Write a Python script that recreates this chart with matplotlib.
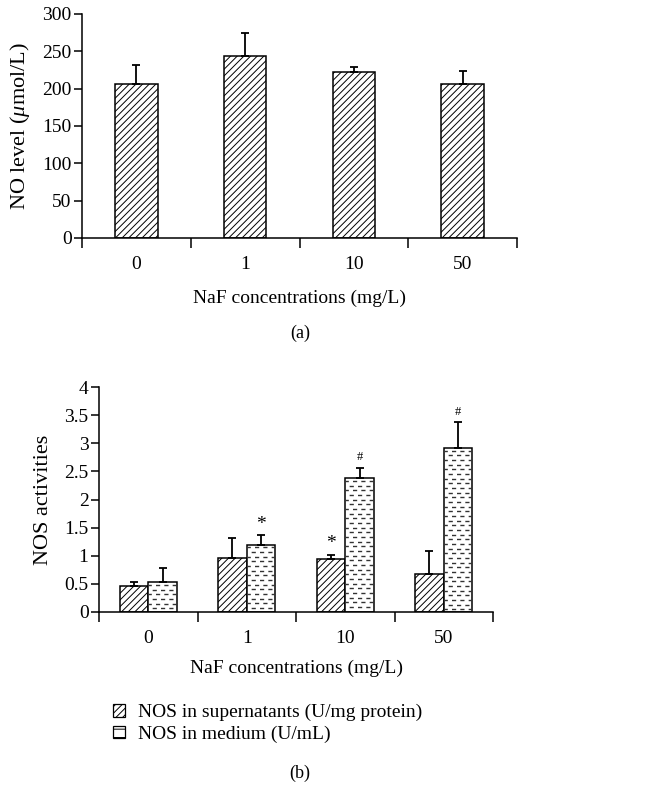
import numpy as np
import matplotlib
matplotlib.use('Agg')
import matplotlib.pyplot as plt
from matplotlib.patches import Patch

plt.rcParams['font.family'] = ['Liberation Serif', 'DejaVu Serif']
plt.rcParams['mathtext.fontset'] = 'custom'
plt.rcParams['mathtext.rm'] = 'Liberation Serif'
plt.rcParams['mathtext.it'] = 'Liberation Serif:italic'
plt.rcParams['hatch.linewidth'] = 0.7

# data
conc = ['0', '1', '10', '50']
no_level = [206, 244, 222, 206]
no_err = [26, 30, 7, 17]

nos_sup = [0.47, 0.96, 0.935, 0.675]
nos_sup_err = [0.06, 0.36, 0.085, 0.405]
nos_med = [0.53, 1.20, 2.38, 2.92]
nos_med_err = [0.245, 0.17, 0.18, 0.45]
sup_marks = ['', '', '*', '']
med_marks = ['', '*', '#', '#']

FS = 14
H = 788.0


def style_axes(ax, ymax, ystep):
    ax.spines['top'].set_visible(False)
    ax.spines['right'].set_visible(False)
    for s in ('left', 'bottom'):
        ax.spines[s].set_linewidth(1.1)
    n = len(conc)
    ax.set_xlim(-0.5, n - 0.5)
    ax.set_ylim(0, ymax)
    ax.set_xticks(np.arange(n + 1) - 0.5)
    ax.set_xticklabels([])
    ax.set_xticks(np.arange(n), minor=True)
    ax.set_xticklabels(conc, minor=True, fontsize=FS)
    ax.tick_params(axis='x', which='major', direction='out', length=7, width=1.1)
    ax.tick_params(axis='x', which='minor', length=0, pad=13)
    yt = np.arange(0, ymax + ystep / 2, ystep)
    ax.set_yticks(yt)
    ax.set_yticklabels(['%g' % v for v in yt], fontsize=FS)
    ax.tick_params(axis='y', direction='out', length=5.5, width=1.1, pad=2)


def dash_fill(ax, bar, step, color='#333333'):
    x0, w, h = bar.get_x(), bar.get_width(), bar.get_height()
    rows = np.arange(h - step * 0.6, 0, -step)
    for i, yy in enumerate(rows):
        ln, = ax.plot([x0, x0 + w], [yy, yy], color=color, lw=1.0,
                      linestyle=(3.0 if i % 2 else 0.6, (3.0, 3.0)),
                      dash_capstyle='butt', zorder=2.5)
        ln.set_clip_path(bar)


fig = plt.figure(figsize=(6.45, 7.88), dpi=100)
x = np.arange(len(conc))
err_kw = dict(fmt='none', ecolor='black', elinewidth=1.3, capsize=2.8,
              capthick=1.3, zorder=3)

# (a) NO level
ax1 = fig.add_axes([82 / 645, 1 - 238 / H, 435 / 645, 224 / H])
ax1.bar(x, no_level, width=0.39, color='white', edgecolor='black',
        linewidth=1.1, hatch='/////', zorder=2)
ax1.errorbar(x, no_level, yerr=[np.zeros(len(x)), no_err], **err_kw)
style_axes(ax1, 300, 50)
ax1.set_ylabel(r'NO level ($\mu$mol/L)', fontsize=16, va='center')
ax1.yaxis.set_label_coords(-0.1425, 0.5)
ax1.set_xlabel('NaF concentrations (mg/L)', fontsize=FS, va='center')
ax1.xaxis.set_label_coords(0.5, -0.27)
fig.text(300 / 645, 1 - 333 / H, '(a)', ha='center', va='center', fontsize=FS - 1)

# (b) NOS activities
ax2 = fig.add_axes([99 / 645, 1 - 612 / H, 394 / 645, 225 / H])
w = 0.29
b1 = ax2.bar(x - w / 2, nos_sup, width=w, color='white', edgecolor='black',
             linewidth=1.1, hatch='/////', zorder=2)
b2 = ax2.bar(x + w / 2, nos_med, width=w, color='white', edgecolor='black',
             linewidth=1.1, zorder=2)
for bar in b2:
    dash_fill(ax2, bar, 0.083)
ax2.errorbar(x - w / 2, nos_sup, yerr=[np.zeros(len(x)), nos_sup_err], **err_kw)
ax2.errorbar(x + w / 2, nos_med, yerr=[np.zeros(len(x)), nos_med_err], **err_kw)
for i in range(len(x)):
    for xs, v, e, m in ((x[i] - w / 2, nos_sup[i], nos_sup_err[i], sup_marks[i]),
                        (x[i] + w / 2, nos_med[i], nos_med_err[i], med_marks[i])):
        if m == '*':
            ax2.text(xs, v + e + 0.04, m, ha='center', va='bottom', fontsize=FS)
        elif m == '#':
            ax2.text(xs, v + e + 0.08, m, ha='center', va='bottom', fontsize=9)
style_axes(ax2, 4, 0.5)
ax2.set_ylabel('NOS activities', fontsize=16, va='center')
ax2.yaxis.set_label_coords((43 - 99) / 394, 0.5)
ax2.set_xlabel('NaF concentrations (mg/L)', fontsize=FS, va='center')
ax2.xaxis.set_label_coords(0.5, -0.2525)

handles = [Patch(facecolor='white', edgecolor='black', hatch='/////', linewidth=0.9),
           Patch(facecolor='white', edgecolor='black', hatch='--', linewidth=0.9)]
fig.legend(handles, ['NOS in supernatants (U/mg protein)', 'NOS in medium (U/mL)'],
           loc='upper left', bbox_to_anchor=(113 / 645, 1 - 704 / H), frameon=False,
           fontsize=FS, handlelength=0.6, handleheight=0.6, handletextpad=0.7,
           labelspacing=0.22, borderpad=0, borderaxespad=0)
fig.text(300 / 645, 1 - 773 / H, '(b)', ha='center', va='center', fontsize=FS - 1)

fig.savefig('out.png', dpi=100)
